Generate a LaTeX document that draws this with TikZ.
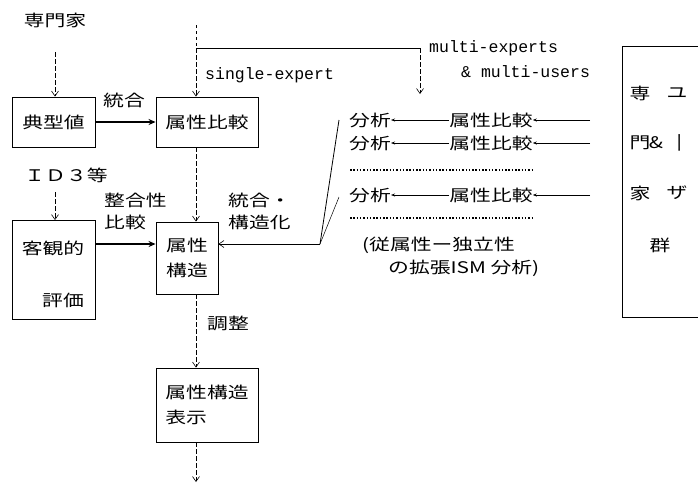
\documentclass[tikz,border=0pt]{standalone}
\usepackage{fontspec}
\setmainfont{Noto Sans CJK JP}
\newfontfamily\jp[FakeStretch=1.3]{Noto Sans CJK JP}
\newfontfamily\mono{Liberation Mono}
\usetikzlibrary{arrows.meta}
\begin{document}
\begin{tikzpicture}[x=1pt,y=-1pt,
  box/.style={draw, line width=0.9pt, inner sep=0pt, font=\jp\fontsize{16}{25}\selectfont},
  jtxt/.style={inner sep=0pt, font=\jp\fontsize{16}{22}\selectfont},
  etxt/.style={inner sep=0pt, font=\mono\fontsize{16.5}{19}\selectfont},
  dflow/.style={dashed, dash pattern=on 5pt off 2pt, line width=0.6pt, -{Straight Barb[length=5pt,width=7pt]}},
  sflow/.style={line width=1.2pt, -{Stealth[length=7pt,width=6pt]}},
  rflow/.style={line width=0.7pt, -{Stealth[length=4pt,width=3pt]}},
  dotline/.style={line width=1.3pt, dash pattern=on 1.5pt off 1.8pt}
]
\useasboundingbox (0,0) rectangle (698,488);
\clip (0,0) rectangle (698,488);

% left column
\node[jtxt] (senmonka) at (55,20) {専門家};
\coordinate (s1) at (55,52);
\node[box, minimum width=83pt, minimum height=50pt] (tenkei) at (53.5,122) {典型値};
\node[box, minimum width=102pt, minimum height=50pt] (hikaku) at (207,122) {属性比較};
\draw[dflow] (s1) -- (s1 |- tenkei.north);
\draw[sflow] (tenkei) -- (hikaku);
\node[jtxt] (tougou) at (124,100) {統合};

% top feed
\coordinate (top) at (196,25);
\coordinate (jn) at (196,48);
\coordinate (mc) at (420,48);
\coordinate (mt) at (420,94);
\draw[dashed, line width=0.6pt] (top) -- (jn);
\draw[dflow] (jn) -- (jn |- hikaku.north);
\draw[line width=0.7pt] (jn) -- (mc);
\draw[dflow] (mc) -- (mt);
\node[etxt, anchor=west] (single) at (205,75) {single-expert};
\node[etxt, anchor=west] (multi1) at (429,48) {multi-experts};
\node[etxt, anchor=west] (multi2) at (461,72) {\& multi-users};

% ID3
\node[jtxt] (id3) at (66,175) {ＩＤ３等};
\coordinate (i1) at (55,192);
\node[box, minimum width=83pt, minimum height=99pt] (kyakkan) at (53.5,270) {};
\node[jtxt] (kk1) at (53,248) {客観的};
\node[jtxt] (kk2) at (63,300) {評価};
\draw[dflow] (i1) -- (i1 |- kyakkan.north);

\node[box, minimum width=62pt, minimum height=72pt, align=left] (kouzou) at (187,258) {属性\\構造};
\draw[sflow] (kyakkan.east |- 0,244) -- (kouzou.west |- 0,244);
\node[jtxt, anchor=west, align=left] (seigou) at (104,211) {整合性\\比較};
\node[jtxt, anchor=west, align=left] (tk) at (228,211) {統合・\\構造化};
\draw[dflow] (hikaku.south -| jn) -- (kouzou.north -| jn);

\node[jtxt] (chousei) at (228,323) {調整};
\node[box, minimum width=102pt, minimum height=74pt, align=left] (hyouji) at (207,405) {属性構造\\表示};
\draw[dflow] (kouzou.south -| jn) -- (hyouji.north -| jn);
\coordinate (out) at (196,482);
\draw[dflow] (hyouji.south -| jn) -- (out);

% right section
\node[draw, line width=0.8pt, minimum width=160pt, minimum height=271pt] (users) at (702,181.5) {};
\node[jtxt] at (640,93) {専};
\node[jtxt] at (677,93) {ユ};
\node[jtxt] at (640,143) {門};
\node[jtxt] at (656,143) {\&};
\node[jtxt, rotate=-90] at (677,143) {ー};
\node[jtxt] at (640,193) {家};
\node[jtxt] at (677,193) {ザ};
\node[jtxt] at (660,245) {群};

\foreach \i/\yy in {1/120,2/143,3/195}{
  \node[jtxt] (b\i) at (370,\yy) {分析};
  \node[jtxt] (p\i) at (491,\yy) {属性比較};
  \coordinate (u\i) at (590,\yy);
  \draw[rflow] (p\i.west) -- (b\i.east);
  \draw[rflow] (u\i) -- (p\i.east);
}
\coordinate (d1a) at (350,170); \coordinate (d1b) at (532,170);
\coordinate (d2a) at (350,218); \coordinate (d2b) at (532,218);
\draw[dotline] (d1a) -- (d1b);
\draw[dotline] (d2a) -- (d2b);

% fan
\coordinate (fv) at (320,244);
\coordinate (f1) at (339,120);
\coordinate (f3) at (339,197);
\draw[line width=0.8pt] (f1) -- (fv);
\draw[line width=0.5pt] (f3) -- (fv);
\draw[line width=0.6pt, -{Straight Barb[length=5pt,width=7pt]}] (fv) -- (kouzou.east |- fv);

\node[jtxt, anchor=west] (ism1) at (362,245) {(従属性ー独立性};
\node[jtxt, anchor=west] (ism2) at (388,268) {の拡張ISM 分析)};
\end{tikzpicture}
\end{document}
